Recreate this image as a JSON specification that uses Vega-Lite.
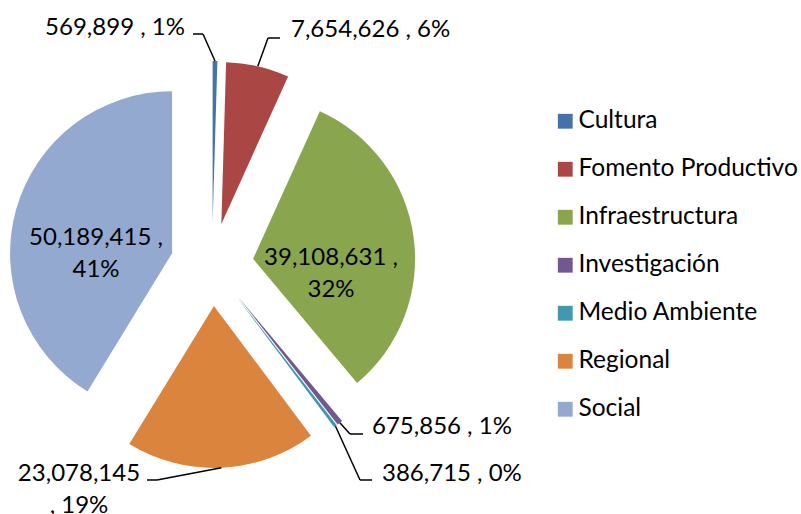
{
  "$schema": "https://vega.github.io/schema/vega-lite/v6.json",
  "width": 801,
  "height": 514,
  "autosize": {"type": "none"},
  "padding": 0,
  "background": "white",
  "config": {"view": {"stroke": null}, "font": "Lato"},
  "data": {
    "values": [
      {"idx": 1, "category": "Cultura", "value": 569899, "label": "569,899 , 1%"},
      {"idx": 2, "category": "Fomento Productivo", "value": 7654626, "label": "7,654,626 , 6%"},
      {"idx": 3, "category": "Infraestructura", "value": 39108631, "label": "39,108,631 ,\n32%"},
      {"idx": 4, "category": "Investigación", "value": 675856, "label": "675,856 , 1%"},
      {"idx": 5, "category": "Medio Ambiente", "value": 386715, "label": "386,715 , 0%"},
      {"idx": 6, "category": "Regional", "value": 23078145, "label": "23,078,145\n, 19%"},
      {"idx": 7, "category": "Social", "value": 50189415, "label": "50,189,415 ,\n41%"}
    ]
  },
  "transform": [
    {"window": [{"op": "sum", "field": "value", "as": "cum"}], "sort": [{"field": "idx"}], "frame": [null, 0]},
    {"joinaggregate": [{"op": "sum", "field": "value", "as": "total"}]},
    {"calculate": "(datum.cum - datum.value) / datum.total", "as": "f0"},
    {"calculate": "datum.cum / datum.total", "as": "f1"},
    {"calculate": "PI * (datum.f0 + datum.f1)", "as": "mid"},
    {"calculate": "0.256 * sin(datum.mid)", "as": "ex"},
    {"calculate": "0.256 * cos(datum.mid)", "as": "ey"},
    {"calculate": "datum.ex + sin(datum.mid)", "as": "sx"},
    {"calculate": "datum.ey + cos(datum.mid)", "as": "sy"},
    {"calculate": "{'Cultura': -0.1173, 'Fomento Productivo': 0.4198, 'Investigación': 0.9321, 'Medio Ambiente': 0.9877, 'Regional': -0.4012}[datum.category]", "as": "lx"},
    {"calculate": "{'Cultura': 1.4228, 'Fomento Productivo': 1.3981, 'Investigación': -1.0463, 'Medio Ambiente': -1.3302, 'Regional': -1.3302}[datum.category]", "as": "ly"},
    {"calculate": "{'Cultura': -0.0556, 'Fomento Productivo': 0.3457, 'Investigación': 0.8519, 'Medio Ambiente': 0.9136, 'Regional': -0.3395}[datum.category]", "as": "bx"},
    {"calculate": "{'Cultura': -0.1667, 'Fomento Productivo': 0.4877, 'Infraestructura': 0.7346, 'Investigación': 0.9877, 'Medio Ambiente': 1.0494, 'Regional': -0.821, 'Social': -0.716}[datum.category]", "as": "tx"},
    {"calculate": "{'Cultura': 1.4167, 'Fomento Productivo': 1.4043, 'Infraestructura': -0.0031, 'Investigación': -1.0463, 'Medio Ambiente': -1.3364, 'Regional': -1.3364, 'Social': 0.1204}[datum.category]", "as": "ty"}
  ],
  "layer": [
    {
      "mark": {"type": "arc", "outerRadius": 162},
      "encoding": {
        "x": {"field": "ex", "type": "quantitative", "scale": {"domain": [-1.3086, 3.6358], "nice": false, "zero": false}, "axis": null},
        "y": {"field": "ey", "type": "quantitative", "scale": {"domain": [-1.5401, 1.6327], "nice": false, "zero": false}, "axis": null},
        "theta": {"field": "f0", "type": "quantitative", "stack": null, "scale": {"domain": [0, 1], "range": [0, 6.283185307179586]}},
        "theta2": {"field": "f1"},
        "color": {
          "field": "category",
          "type": "nominal",
          "sort": ["Cultura", "Fomento Productivo", "Infraestructura", "Investigación", "Medio Ambiente", "Regional", "Social"],
          "scale": {
            "domain": ["Cultura", "Fomento Productivo", "Infraestructura", "Investigación", "Medio Ambiente", "Regional", "Social"],
            "range": ["#4572A7", "#AA4643", "#89A54E", "#71588F", "#4198AF", "#DB843D", "#93A9CF"]
          },
          "legend": {
            "title": null,
            "orient": "none",
            "legendX": 553,
            "legendY": 109,
            "symbolType": "square",
            "symbolSize": 220,
            "symbolStrokeWidth": 0,
            "labelFont": "Lato",
            "labelFontSize": 24.5,
            "labelColor": "#000000",
            "labelOffset": 1,
            "rowPadding": 23,
            "padding": 0,
            "labelLimit": 300
          }
        }
      }
    },
    {
      "transform": [{"filter": "isValid(datum.lx)"}],
      "mark": {"type": "rule", "color": "#000000", "strokeWidth": 1.5},
      "encoding": {
        "x": {"field": "sx", "type": "quantitative"},
        "y": {"field": "sy", "type": "quantitative"},
        "x2": {"field": "bx"},
        "y2": {"field": "ly"}
      }
    },
    {
      "transform": [{"filter": "isValid(datum.lx)"}],
      "mark": {"type": "rule", "color": "#000000", "strokeWidth": 1.5},
      "encoding": {
        "x": {"field": "bx", "type": "quantitative"},
        "y": {"field": "ly", "type": "quantitative"},
        "x2": {"field": "lx"},
        "y2": {"field": "ly"}
      }
    },
    {
      "transform": [{"filter": "indexof(['Fomento Productivo', 'Investigación', 'Medio Ambiente'], datum.category) >= 0"}],
      "mark": {"type": "text", "align": "left", "baseline": "alphabetic", "font": "Lato", "fontSize": 24, "color": "#000000", "lineBreak": "\n"},
      "encoding": {
        "x": {"field": "tx", "type": "quantitative"},
        "y": {"field": "ty", "type": "quantitative"},
        "text": {"field": "label"}
      }
    },
    {
      "transform": [{"filter": "datum.category == 'Cultura'"}],
      "mark": {"type": "text", "align": "right", "baseline": "alphabetic", "font": "Lato", "fontSize": 24, "color": "#000000", "lineBreak": "\n"},
      "encoding": {
        "x": {"field": "tx", "type": "quantitative"},
        "y": {"field": "ty", "type": "quantitative"},
        "text": {"field": "label"}
      }
    },
    {
      "transform": [{"filter": "indexof(['Infraestructura', 'Regional', 'Social'], datum.category) >= 0"}],
      "mark": {"type": "text", "align": "center", "baseline": "alphabetic", "font": "Lato", "fontSize": 24, "lineHeight": 32, "color": "#000000", "lineBreak": "\n"},
      "encoding": {
        "x": {"field": "tx", "type": "quantitative"},
        "y": {"field": "ty", "type": "quantitative"},
        "text": {"field": "label"}
      }
    }
  ]
}
